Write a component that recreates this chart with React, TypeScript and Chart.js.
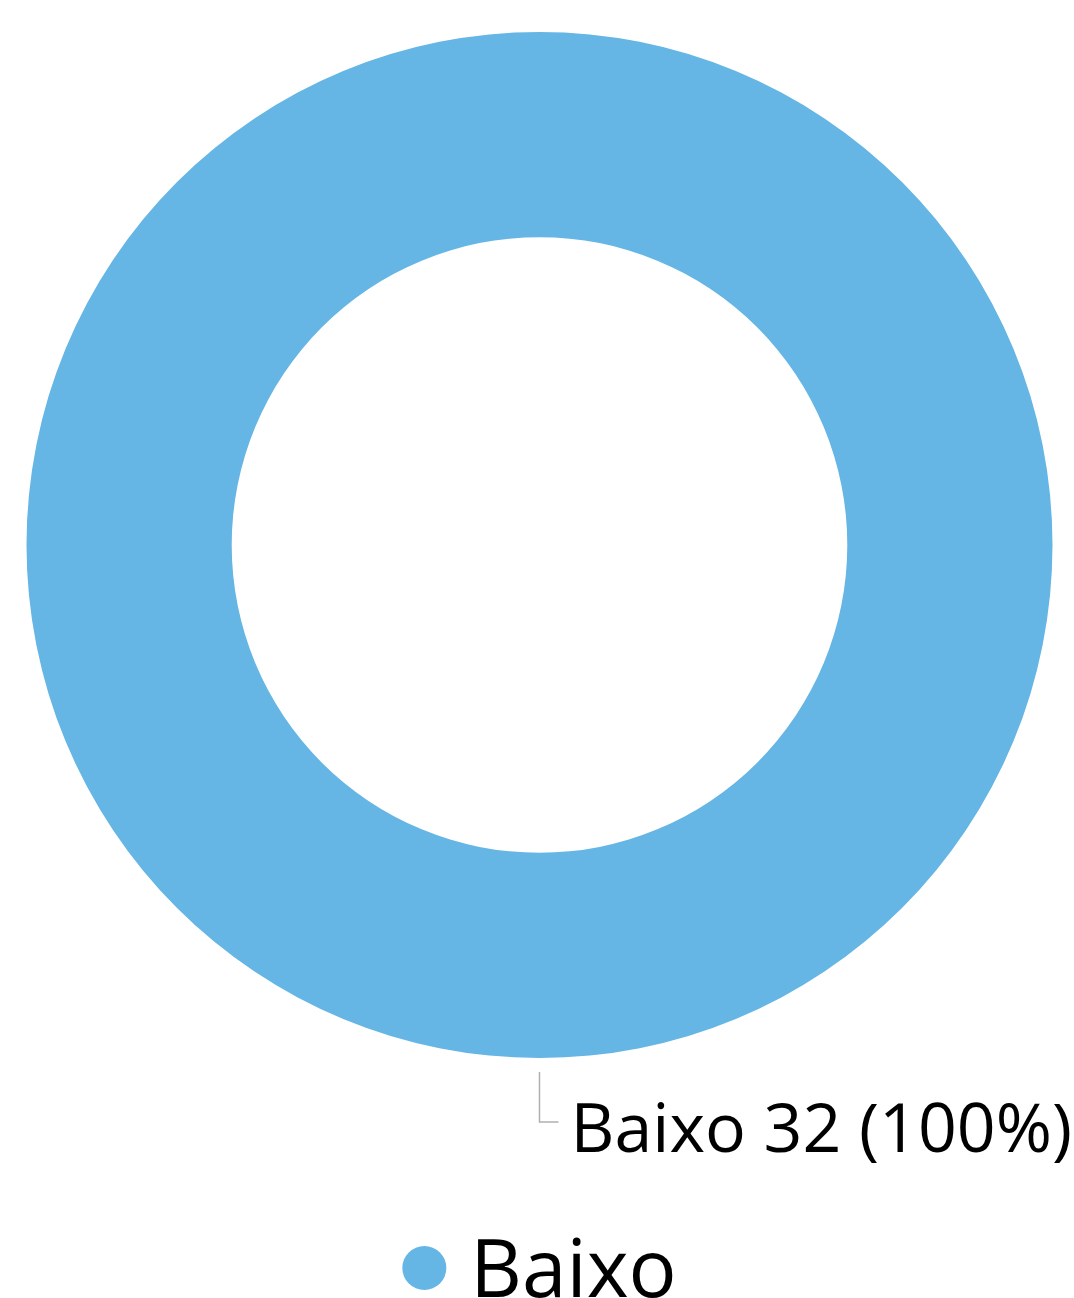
import React, { useEffect, useRef } from "react";
import { Chart, registerables } from "chart.js";

Chart.register(...registerables);

const categories: string[] = ["Baixo"];
const values: number[] = [32];
const colors: string[] = ["#65B5E5"];

const FONT = "'Open Sans', 'Noto Sans', sans-serif";

const labelPlugin = {
  id: "leaderLabels",
  afterDatasetsDraw(chart: any) {
    const ctx = chart.ctx as CanvasRenderingContext2D;
    const meta = chart.getDatasetMeta(0);
    const ds = chart.data.datasets[0];
    const total = (ds.data as number[]).reduce((a, b) => a + b, 0);
    meta.data.forEach((arc: any, i: number) => {
      const { x, y, outerRadius, startAngle, endAngle } = arc.getProps(
        ["x", "y", "outerRadius", "startAngle", "endAngle"],
        true
      );
      let mid = (startAngle + endAngle) / 2;
      // full circle: put label at bottom
      if (endAngle - startAngle >= Math.PI * 2 - 1e-6) mid = Math.PI / 2;
      const x0 = x + Math.cos(mid) * (outerRadius + 14);
      const y0 = y + Math.sin(mid) * (outerRadius + 14);
      const y1 = y0 + 50;
      const x1 = x0 + 19;
      ctx.save();
      ctx.strokeStyle = "#b0b0b0";
      ctx.lineWidth = 1.5;
      ctx.beginPath();
      ctx.moveTo(x0, y0);
      ctx.lineTo(x0, y1);
      ctx.lineTo(x1, y1);
      ctx.stroke();
      const v = (ds.data as number[])[i];
      const pct = Math.round((v / total) * 100);
      ctx.fillStyle = "#000";
      ctx.font = `68px ${FONT}`;
      ctx.textAlign = "left";
      ctx.textBaseline = "alphabetic";
      ctx.fillText(`${chart.data.labels[i]} ${v} (${pct}%)`, x1 + 12, y1 + 30);
      ctx.restore();
    });
  },
};

const legendPlugin = {
  id: "customLegend",
  afterDraw(chart: any) {
    const ctx = chart.ctx as CanvasRenderingContext2D;
    const area = chart.chartArea;
    const cx = (area.left + area.right) / 2;
    const cy = area.bottom + 210;
    ctx.save();
    ctx.font = `80px ${FONT}`;
    const labels: string[] = chart.data.labels;
    labels.forEach((lab, i) => {
      const tw = ctx.measureText(lab).width;
      const r = 22;
      const gap = 24;
      const total = r * 2 + gap + tw;
      const startX = cx - total / 2;
      ctx.fillStyle = (chart.data.datasets[0].backgroundColor as string[])[i];
      ctx.beginPath();
      ctx.arc(startX + r, cy, r, 0, Math.PI * 2);
      ctx.fill();
      ctx.fillStyle = "#000";
      ctx.textAlign = "left";
      ctx.textBaseline = "alphabetic";
      ctx.fillText(lab, startX + r * 2 + gap, cy + 29);
    });
    ctx.restore();
  },
};

export default function App() {
  const ref = useRef<HTMLCanvasElement | null>(null);
  useEffect(() => {
    if (!ref.current) return;
    const chart = new Chart(ref.current, {
      type: "doughnut",
      data: {
        labels: categories,
        datasets: [
          {
            data: values,
            backgroundColor: colors,
            borderWidth: 0,
          },
        ],
      },
      options: {
        responsive: false,
        animation: false,
        cutout: "60%",
        layout: { padding: { left: 26, right: 21, top: 32, bottom: 240 } },
        plugins: {
          legend: { display: false },
          tooltip: { enabled: false },
        },
      },
      plugins: [labelPlugin, legendPlugin],
    });
    return () => chart.destroy();
  }, []);
  return (
    <div style={{ position: "fixed", left: 0, top: 0, width: 1074, height: 1298, background: "#fff" }}>
      <canvas ref={ref} width={1074} height={1298} style={{ display: "block" }} />
    </div>
  );
}
